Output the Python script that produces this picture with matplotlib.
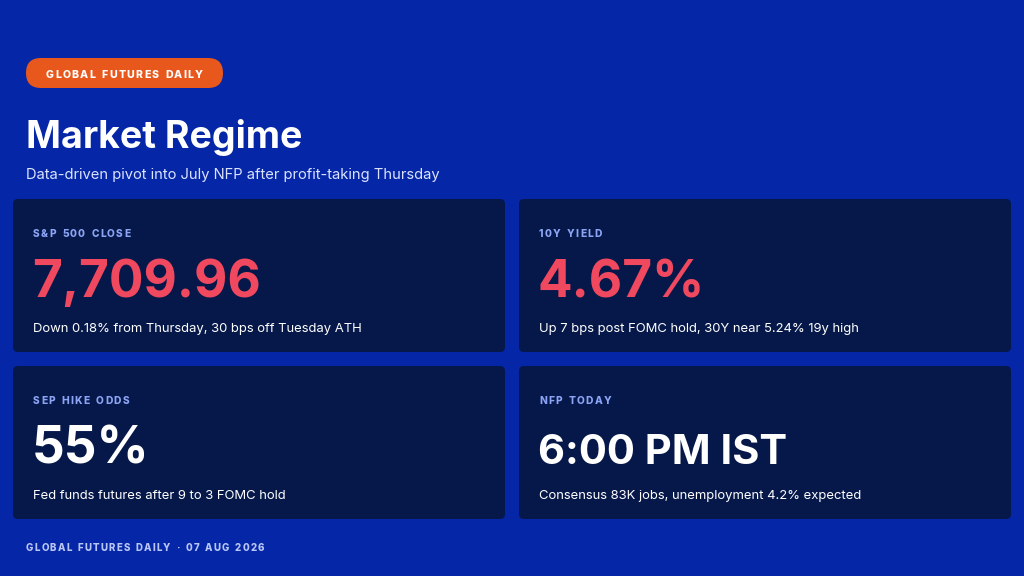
import matplotlib.pyplot as plt
from matplotlib.patches import FancyBboxPatch

# Content
badge_text = "GLOBAL FUTURES DAILY"
title = "Market Regime"
subtitle = "Data-driven pivot into July NFP after profit-taking Thursday"
footer = "GLOBAL FUTURES DAILY \u00b7 07 AUG 2026"

card_labels = ["S&P 500 CLOSE", "10Y YIELD", "SEP HIKE ODDS", "NFP TODAY"]
card_values = ["7,709.96", "4.67%", "55%", "6:00 PM IST"]
card_notes = [
    "Down 0.18% from Thursday, 30 bps off Tuesday ATH",
    "Up 7 bps post FOMC hold, 30Y near 5.24% 19y high",
    "Fed funds futures after 9 to 3 FOMC hold",
    "Consensus 83K jobs, unemployment 4.2% expected",
]
card_tone = ["down", "down", "neutral", "neutral"]

BG = "#0526A6"
CARD = "#061849"
RED = "#F0495F"
LABEL = "#8CA4F5"
ORANGE = "#E8581C"
FONT = "Inter"

W, H = 1024, 576
fig = plt.figure(figsize=(W / 100, H / 100), dpi=100, facecolor=BG)
ax = fig.add_axes([0, 0, 1, 1])
ax.set_xlim(0, W)
ax.set_ylim(H, 0)
ax.axis("off")
renderer = fig.canvas.get_renderer()


def spaced(x, y, s, size, color, spacing, ha="left"):
    # draw text char by char to fake letter spacing
    widths = []
    for ch in s:
        t = ax.text(0, 0, ch if ch != " " else "n", fontsize=size, fontweight="heavy", family=FONT)
        bb = t.get_window_extent(renderer)
        widths.append(bb.width * (0.55 if ch == " " else 1.0))
        t.remove()
    total = sum(widths) + spacing * (len(s) - 1)
    if ha == "center":
        x = x - total / 2
    for ch, w in zip(s, widths):
        if ch != " ":
            ax.text(x, y, ch, fontsize=size, fontweight="heavy", family=FONT,
                    color=color, va="baseline", ha="left")
        x += w + spacing


# badge
ax.add_patch(FancyBboxPatch((26, 58), 197, 30, boxstyle="round,pad=0,rounding_size=15",
                            fc=ORANGE, ec="none"))
spaced(124.5, 78, badge_text, 7.6, "white", 1.3, ha="center")

ax.text(26, 148, title, fontsize=27, fontweight="bold", family=FONT, color="white", va="baseline")
ax.text(26, 179, subtitle, fontsize=10.6, family=FONT, color="#DCE3FF", va="baseline")

# cards
xs = [13, 519]
ys = [199, 366]
cw, ch_ = 492, 153
for i in range(4):
    x0 = xs[i % 2]
    y0 = ys[i // 2]
    ax.add_patch(FancyBboxPatch((x0, y0), cw, ch_, boxstyle="round,pad=0,rounding_size=5",
                                fc=CARD, ec="none"))
    spaced(x0 + 20, y0 + 38, card_labels[i], 7.3, LABEL, 1.3)
    vcol = RED if card_tone[i] == "down" else "white"
    vsize = 30 if len(card_values[i]) > 8 else 37
    ax.text(x0 + 19, y0 + 98, card_values[i], fontsize=vsize, fontweight="bold", family=FONT,
            color=vcol, va="baseline")
    ax.text(x0 + 20, y0 + 133, card_notes[i], fontsize=9.4, family=FONT, color="white",
            va="baseline")

spaced(26, 551, footer, 7.0, "#B9C6F5", 1.2)

fig.savefig("out.png", dpi=100, facecolor=BG)
